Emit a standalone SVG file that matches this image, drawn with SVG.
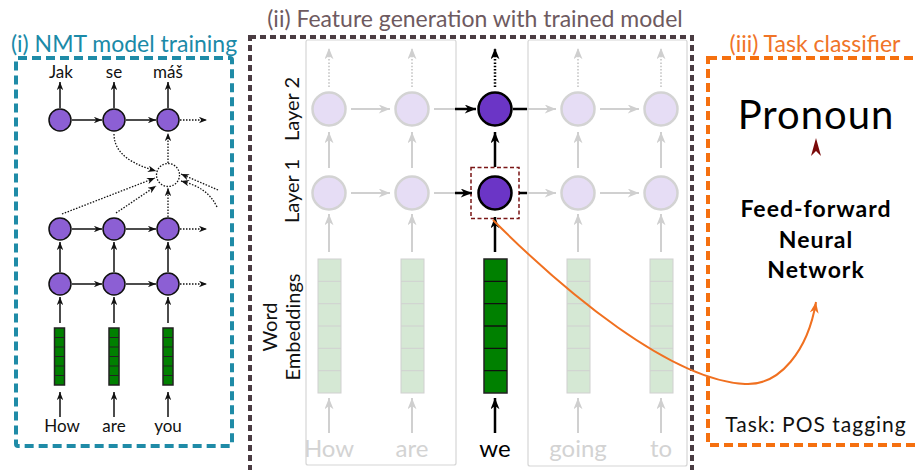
<svg xmlns="http://www.w3.org/2000/svg" width="917" height="470" viewBox="0 0 917 470">
<style>
text{font-family:Lato,"Liberation Sans",sans-serif}
.lnode{fill:#8c5fd4;stroke:#111;stroke-width:1.5}
.fnode{fill:#e6ddf5;stroke:#d3d3d3;stroke-width:2.5}
.anode{fill:#6b35c6;stroke:#000;stroke-width:2.5}
.k{stroke:#111;stroke-width:1.5;fill:none;marker-end:url(#a1)}
.kd{stroke:#111;stroke-width:1.3;fill:none;stroke-dasharray:1.5 1.5;marker-end:url(#a1)}
.g{stroke:#d0d0d0;stroke-width:2;fill:none;marker-end:url(#g2)}
.gd{stroke:#d0d0d0;stroke-width:2;fill:none;stroke-dasharray:1.5 1.8;marker-end:url(#g2)}
.b{stroke:#000;stroke-width:2.5;fill:none;marker-end:url(#b2)}
.bl{stroke:#000;stroke-width:2.5;fill:none}
.gl{stroke:#d0d0d0;stroke-width:2;fill:none}
.bd{stroke:#000;stroke-width:2.5;fill:none;stroke-dasharray:1.5 1.8;marker-end:url(#b2)}
.fe{fill:#d5e8d4;stroke:#d0d0d0;stroke-width:1}
.ae{fill:#008000;stroke:#222;stroke-width:1.5}
.lw{font-size:17px;fill:#111;text-anchor:middle}
.mw{font-size:24px;fill:#d3d3d3;text-anchor:middle}
.vl{font-size:20px;fill:#111;text-anchor:middle}
.nn{font-size:23px;font-weight:bold;fill:#000;text-anchor:middle;letter-spacing:1px}
</style>
<defs>
<marker id="a1" viewBox="0 0 10 8" refX="10" refY="4" markerWidth="9" markerHeight="6.5" markerUnits="userSpaceOnUse" orient="auto"><path d="M0,0 L10,4 L0,8 L3,4 z" fill="#111"/></marker>
<marker id="b2" viewBox="0 0 10 8" refX="10" refY="4" markerWidth="12" markerHeight="9" markerUnits="userSpaceOnUse" orient="auto"><path d="M0,0 L10,4 L0,8 L3,4 z" fill="#000"/></marker>
<marker id="g2" viewBox="0 0 10 8" refX="10" refY="4" markerWidth="12" markerHeight="9" markerUnits="userSpaceOnUse" orient="auto"><path d="M0,0 L10,4 L0,8 L3,4 z" fill="#cfcfcf"/></marker>
<marker id="o2" viewBox="0 0 10 8" refX="10" refY="4" markerWidth="12" markerHeight="9" markerUnits="userSpaceOnUse" orient="auto"><path d="M0,0 L10,4 L0,8 L3,4 z" fill="#f07020"/></marker>
</defs>

<g id="panel-nmt">
<rect x="16" y="58" width="216" height="388" rx="2" fill="none" stroke="#1f8ba7" stroke-width="4" stroke-dasharray="9 5"/>
<text x="124" y="52" font-size="23" fill="#1b8aa8" text-anchor="middle">(i) NMT model training</text>
</g>

<g id="nmt-words-out">
<text class="lw" x="61" y="78">Jak</text>
<text class="lw" x="114" y="78">se</text>
<text class="lw" x="168" y="78">máš</text>
</g>

<g id="nmt-decoder">
<circle class="lnode" cx="60" cy="120" r="11"/>
<circle class="lnode" cx="114" cy="120" r="11"/>
<circle class="lnode" cx="168" cy="120" r="11"/>
</g>

<g id="nmt-attention">
<circle cx="168" cy="175" r="11.5" fill="#fff" stroke="#111" stroke-width="1.3" stroke-dasharray="1.5 1.5"/>
</g>

<g id="nmt-encoder">
<circle class="lnode" cx="60" cy="229" r="11"/>
<circle class="lnode" cx="114" cy="229" r="11"/>
<circle class="lnode" cx="168" cy="229" r="11"/>
<circle class="lnode" cx="60" cy="284" r="11"/>
<circle class="lnode" cx="114" cy="284" r="11"/>
<circle class="lnode" cx="168" cy="284" r="11"/>
</g>

<g id="nmt-embeddings">
<g transform="translate(54.5,328)"><rect class="ae" width="10" height="57" stroke-width="1"/><path d="M0,9.5H10M0,19H10M0,28.5H10M0,38H10M0,47.5H10" stroke="#222" stroke-width="1"/></g>
<g transform="translate(109,328)"><rect class="ae" width="10" height="57" stroke-width="1"/><path d="M0,9.5H10M0,19H10M0,28.5H10M0,38H10M0,47.5H10" stroke="#222" stroke-width="1"/></g>
<g transform="translate(163,328)"><rect class="ae" width="10" height="57" stroke-width="1"/><path d="M0,9.5H10M0,19H10M0,28.5H10M0,38H10M0,47.5H10" stroke="#222" stroke-width="1"/></g>
</g>

<g id="nmt-words-in">
<text class="lw" x="62" y="432">How</text>
<text class="lw" x="114" y="432">are</text>
<text class="lw" x="168" y="432">you</text>
</g>

<g id="nmt-connectors">
<path class="k" d="M60,108V82"/>
<path class="k" d="M114,108V82"/>
<path class="k" d="M168,108V82"/>
<path class="k" d="M72,120H102"/>
<path class="k" d="M126,120H156"/>
<path class="kd" d="M180,120H207"/>
<path class="k" d="M72,229H102"/>
<path class="k" d="M126,229H156"/>
<path class="kd" d="M180,229H207"/>
<path class="k" d="M72,284H102"/>
<path class="k" d="M126,284H156"/>
<path class="kd" d="M180,284H207"/>
<path class="k" d="M60,272V242"/>
<path class="k" d="M114,272V242"/>
<path class="k" d="M168,272V242"/>
<path class="k" d="M60,323V297"/>
<path class="k" d="M114,323V297"/>
<path class="k" d="M168,323V297"/>
<path class="k" d="M60,417V392"/>
<path class="k" d="M114,417V392"/>
<path class="k" d="M168,417V392"/>
<path class="kd" d="M168,163V133"/>
<path class="kd" d="M168,217V188"/>
<path class="kd" d="M62,214L155,178"/>
<path class="kd" d="M116,213L156,186"/>
<path class="kd" d="M114,134C114,155 135,165 156,171"/>
<path class="kd" d="M218,190L181,174"/>
<path class="kd" d="M217,207C210,193 200,186 181,181"/>
</g>

<g id="panel-features">
<rect x="250" y="37" width="442" height="460" fill="none" stroke="#4a3c42" stroke-width="4" stroke-dasharray="6 4"/>
<text x="475" y="27" font-size="23" fill="#6e5a60" text-anchor="middle">(ii) Feature generation with trained model</text>
<rect x="306" y="40" width="150" height="425" rx="2" fill="none" stroke="#d6d6d6" stroke-width="1.2"/>
<rect x="528" y="40" width="159" height="426" rx="2" fill="none" stroke="#d6d6d6" stroke-width="1.2"/>
<text class="vl" transform="translate(299,109) rotate(-90)">Layer 2</text>
<text class="vl" transform="translate(299,191) rotate(-90)">Layer 1</text>
<text class="vl" transform="translate(277,327) rotate(-90)">Word</text>
<text class="vl" transform="translate(300,327) rotate(-90)">Embeddings</text>
</g>

<g id="feat-embeddings">
<g transform="translate(318,259)"><rect class="fe" width="23" height="134"/><path d="M0,22.3H23M0,44.7H23M0,67H23M0,89.3H23M0,111.7H23" stroke="#d0d0d0" stroke-width="1"/></g>
<g transform="translate(401,259)"><rect class="fe" width="23" height="134"/><path d="M0,22.3H23M0,44.7H23M0,67H23M0,89.3H23M0,111.7H23" stroke="#d0d0d0" stroke-width="1"/></g>
<g transform="translate(484,259)"><rect class="ae" width="23" height="134"/><path d="M0,22.3H23M0,44.7H23M0,67H23M0,89.3H23M0,111.7H23" stroke="#111" stroke-width="1.3"/></g>
<g transform="translate(567,259)"><rect class="fe" width="23" height="134"/><path d="M0,22.3H23M0,44.7H23M0,67H23M0,89.3H23M0,111.7H23" stroke="#d0d0d0" stroke-width="1"/></g>
<g transform="translate(650,259)"><rect class="fe" width="23" height="134"/><path d="M0,22.3H23M0,44.7H23M0,67H23M0,89.3H23M0,111.7H23" stroke="#d0d0d0" stroke-width="1"/></g>
</g>

<g id="feat-layer1">
<circle class="fnode" cx="329" cy="193" r="16.5"/>
<circle class="fnode" cx="412" cy="193" r="16.5"/>
<circle class="anode" cx="495" cy="193" r="16.5"/>
<circle class="fnode" cx="578" cy="193" r="16.5"/>
<circle class="fnode" cx="661" cy="193" r="16.5"/>
<rect x="471" y="167.5" width="48" height="51" fill="none" stroke="#7a1616" stroke-width="1.5" stroke-dasharray="4 2.5"/>
</g>

<g id="feat-layer2">
<circle class="fnode" cx="329" cy="109" r="16.5"/>
<circle class="fnode" cx="412" cy="109" r="16.5"/>
<circle class="anode" cx="495" cy="109" r="16.5"/>
<circle class="fnode" cx="578" cy="109" r="16.5"/>
<circle class="fnode" cx="661" cy="109" r="16.5"/>
</g>

<g id="feat-words">
<text class="mw" x="329" y="457">How</text>
<text class="mw" x="412" y="457">are</text>
<text class="mw" x="495" y="457" style="fill:#000">we</text>
<text class="mw" x="578" y="457">going</text>
<text class="mw" x="661" y="457">to</text>
</g>

<g id="feat-connectors">
<path class="g" d="M351,109H390"/>
<path class="g" d="M351,193H390"/>
<path class="gl" d="M434,109H456"/>
<path class="gl" d="M434,193H456"/>
<path class="b" d="M455,109H476"/>
<path class="b" d="M455,193H472"/>
<path class="bl" d="M513,109H527"/>
<path class="bl" d="M519,193H527"/>
<path class="g" d="M527,109H556"/>
<path class="g" d="M527,193H556"/>
<path class="g" d="M600,109H639"/>
<path class="g" d="M600,193H639"/>
<path class="gd" d="M329,87V48"/>
<path class="gd" d="M412,87V48"/>
<path class="bd" d="M495,87V48"/>
<path class="gd" d="M578,87V48"/>
<path class="gd" d="M661,87V48"/>
<path class="g" d="M329,168V132"/>
<path class="g" d="M412,168V132"/>
<path class="b" d="M495,167V132"/>
<path class="g" d="M578,168V132"/>
<path class="g" d="M661,168V132"/>
<path class="g" d="M329,252V214"/>
<path class="g" d="M412,252V214"/>
<path class="b" d="M495,252V217"/>
<path class="g" d="M578,252V214"/>
<path class="g" d="M661,252V214"/>
<path class="g" d="M329,433V398"/>
<path class="g" d="M412,433V398"/>
<path class="b" d="M495,433V398"/>
<path class="g" d="M578,433V398"/>
<path class="g" d="M661,433V398"/>
</g>

<g id="panel-classifier">
<rect x="708" y="58" width="260" height="387" fill="none" stroke="#f5700f" stroke-width="4" stroke-dasharray="9 5"/>
<text x="815" y="52" font-size="23" fill="#f07428" text-anchor="middle">(iii) Task classifier</text>
<text x="816" y="129" font-size="40" fill="#000" text-anchor="middle" letter-spacing="1">Pronoun</text>
<path d="M816,138L821,156L816,151L811,156z" fill="#7a0a0a"/>
<text class="nn" x="816" y="217">Feed-forward</text>
<text class="nn" x="816" y="248">Neural</text>
<text class="nn" x="816" y="278">Network</text>
<text x="816" y="432" font-size="21" fill="#111" text-anchor="middle" letter-spacing="1">Task: POS tagging</text>
</g>

<g id="feature-flow">
<path d="M493,220C565,292 670,380 745,384C780,386 808,350 816,302" fill="none" stroke="#f07020" stroke-width="2" marker-end="url(#o2)"/>
</g>
</svg>
